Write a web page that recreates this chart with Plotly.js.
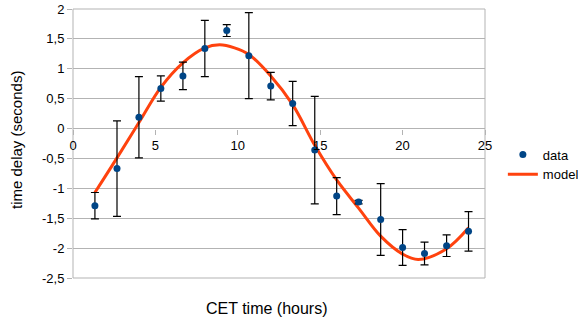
<!DOCTYPE html>
<html>
<head>
<meta charset="utf-8">
<script src="https://cdn.plot.ly/plotly-3.0.1.min.js"></script>
<style>html,body{margin:0;padding:0;background:#fff;}#chart{width:578px;height:320px;}</style>
</head>
<body>
<div id="chart"></div>
<script>
// Measured data
const dataX = [1.33, 2.67, 4, 5.33, 6.67, 8, 9.33, 10.67, 12, 13.33, 14.67, 16, 17.33, 18.67, 20, 21.33, 22.67, 24];
const dataY = [-1.29, -0.67, 0.19, 0.67, 0.88, 1.34, 1.64, 1.22, 0.71, 0.42, -0.36, -1.13, -1.23, -1.52, -1.99, -2.09, -1.96, -1.72];
const dataErr = [0.22, 0.8, 0.68, 0.21, 0.23, 0.47, 0.1, 0.72, 0.23, 0.37, 0.9, 0.31, 0.03, 0.6, 0.3, 0.19, 0.18, 0.33];

// Model curve
const modelX = [1.33, 2.67, 4, 5.33, 6.67, 8, 8.9, 9.8, 10.67, 12, 13.33, 14.67, 16, 17.33, 18.67, 20, 20.95, 22.67, 24];
const modelY = [-1.07, -0.49, 0.10, 0.69, 1.10, 1.35, 1.40, 1.35, 1.24, 0.88, 0.40, -0.28, -0.86, -1.33, -1.80, -2.10, -2.19, -2.01, -1.66];

// Tick labels
const xTickVals = [0, 5, 10, 15, 20, 25];
const xTickText = ["0", "5", "10", "15", "20", "25"];
const yTickVals = [2, 1.5, 1, 0.5, 0, -0.5, -1, -1.5, -2, -2.5];
const yTickText = ["2", "1,5", "1", "0,5", "0", "-0,5", "-1", "-1,5", "-2", "-2,5"];

const FONT = "Liberation Sans, Arial, sans-serif";
const GRID = "#b3b3b3";

const traces = [
  {
    x: modelX, y: modelY, type: "scatter", mode: "lines", name: "model",
    line: {color: "#ff420e", width: 3, shape: "spline", smoothing: 1},
    legendrank: 2, hoverinfo: "skip"
  },
  {
    x: dataX, y: dataY, type: "scatter", mode: "markers", name: "data",
    marker: {color: "#004586", size: 7},
    error_y: {type: "data", array: dataErr, visible: true, color: "#000000", thickness: 1.2, width: 4},
    legendrank: 1
  }
];

const layout = {
  width: 578, height: 320,
  margin: {l: 73, r: 93, t: 9, b: 42, pad: 0, autoexpand: false},
  paper_bgcolor: "#ffffff", plot_bgcolor: "#ffffff",
  font: {family: FONT, size: 13, color: "#000000"},
  showlegend: true,
  legend: {xref: "container", yref: "container", x: 0.870, xanchor: "left", y: 0.486, yanchor: "middle",
           font: {family: FONT, size: 13, color: "#000"}, bgcolor: "rgba(0,0,0,0)", borderwidth: 0},
  xaxis: {
    range: [0, 25], tickvals: xTickVals, ticktext: xTickText, automargin: false,
    showgrid: false, zeroline: false, showline: false,
    anchor: "free", position: 2.5 / 4.5,
    ticks: "outside", ticklen: 5, tickcolor: GRID, tickwidth: 1,
    tickfont: {family: FONT, size: 13, color: "#000"}
  },
  yaxis: {
    range: [-2.5, 2], tickvals: yTickVals, ticktext: yTickText, automargin: false,
    showgrid: true, gridcolor: GRID, gridwidth: 1, zeroline: false, showline: false,
    ticks: "outside", ticklen: 5, tickcolor: GRID, tickwidth: 1,
    tickfont: {family: FONT, size: 13, color: "#000"}
  },
  shapes: [
    {type: "rect", xref: "paper", yref: "paper", x0: 0, x1: 1, y0: 0, y1: 1, line: {color: GRID, width: 1}, layer: "below"}
  ],
  annotations: [
    {text: "CET time (hours)", xref: "paper", yref: "paper", x: 0.5, y: 0, xshift: -12, yshift: -30, xanchor: "center", yanchor: "middle", showarrow: false, font: {family: FONT, size: 16, color: "#000"}},
    {text: "time delay (seconds)", xref: "paper", yref: "paper", x: 0, y: 0.5, xshift: -56.5, yshift: 3, textangle: -90, xanchor: "center", yanchor: "middle", showarrow: false, font: {family: FONT, size: 15, color: "#000"}}
  ]
};

Plotly.newPlot("chart", traces, layout, {displayModeBar: false, staticPlot: true});
</script>
</body>
</html>
